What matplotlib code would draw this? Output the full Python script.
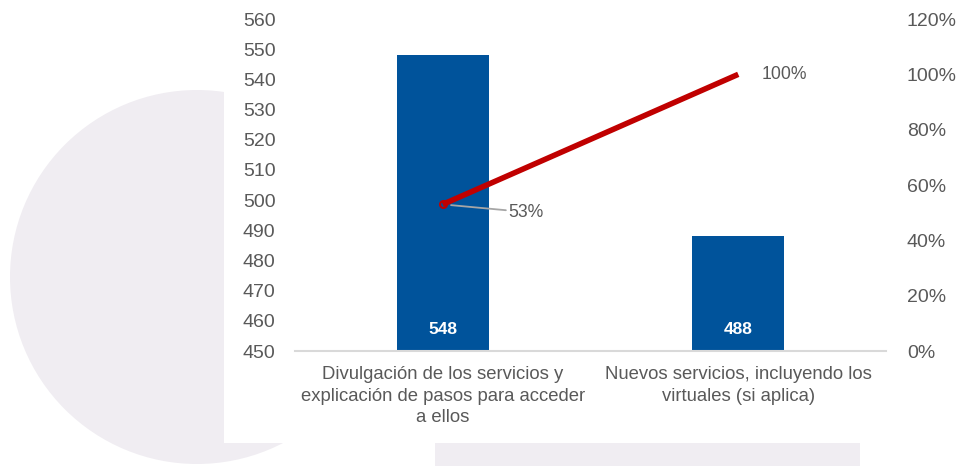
import numpy as np
import matplotlib
matplotlib.use("Agg")
from matplotlib import pyplot as plt
from matplotlib.patches import Ellipse, Rectangle
from matplotlib.ticker import FuncFormatter

categories = ["Divulgación de los servicios y\nexplicación de pasos para acceder\na ellos",
              "Nuevos servicios, incluyendo los\nvirtuales (si aplica)"]
counts = [548, 488]
cum_pct = [53, 100]

plt.rcParams['font.family'] = ['Liberation Sans', 'DejaVu Sans']
grey = '#595959'

fig = plt.figure(figsize=(9.59, 4.66), dpi=100)
W, H = 959, 466

def px(x, y):
    # pixel coords from top-left -> figure fraction
    return x / W, 1 - y / H

# decorative background shapes
lav = '#F0EDF2'
fig.patches.append(Ellipse(px(197, 277), 2 * 187 / W, 2 * 187 / H,
                           transform=fig.transFigure, facecolor=lav,
                           edgecolor='none', zorder=-3))
fig.patches.append(Rectangle(px(224, 443), (W - 224) / W, 443 / H,
                             transform=fig.transFigure, facecolor='white',
                             edgecolor='none', zorder=-2))
fig.patches.append(Rectangle(px(435, 466), (860 - 435) / W, 23 / H,
                             transform=fig.transFigure, facecolor=lav,
                             edgecolor='none', zorder=-2))

l, b = px(295, 351)
r, t = px(886, 19)
ax = fig.add_axes([l, b, r - l, t - b])
ax.patch.set_alpha(0)

x = np.arange(len(categories))
ax.bar(x, counts, width=0.31, color='#00539B', zorder=2)
ax.set_ylim(450, 560)
ax.set_yticks(np.arange(450, 561, 10))
ax.set_xlim(-0.5, 1.5)
ax.set_xticks(x)
ax.set_xticklabels(categories, fontsize=13.3, color=grey, linespacing=1.33)
ax.tick_params(axis='both', length=0, colors=grey, labelsize=14)
ax.tick_params(axis='x', pad=11, labelsize=13.3)
ax.tick_params(axis='y', pad=14)
for s in ['top', 'right', 'left']:
    ax.spines[s].set_visible(False)
ax.spines['bottom'].set_color('#D9D9D9')
ax.spines['bottom'].set_linewidth(1.5)

for xi, v in zip(x, counts):
    ax.text(xi, 457, str(v), ha='center', va='center', color='white',
            fontsize=12.5, fontweight='bold', zorder=3)

ax2 = ax.twinx()
ax2.patch.set_alpha(0)
ax2.set_ylim(0, 120)
ax2.set_yticks(np.arange(0, 121, 20))
ax2.yaxis.set_major_formatter(FuncFormatter(lambda v, p: f"{v:.0f}%"))
ax2.tick_params(axis='y', length=0, colors=grey, labelsize=14, pad=15)
for s in ax2.spines.values():
    s.set_visible(False)
ax2.plot(x, cum_pct, color='#C00000', lw=4, solid_capstyle='butt', zorder=4)
ax2.plot(x[0], cum_pct[0], marker='o', ms=5, mfc='none', mec='#C00000', mew=1.5)

ax2.annotate(f"{cum_pct[0]}%", xy=(x[0], cum_pct[0]), xytext=(x[0] + 0.223, cum_pct[0] - 2.8),
             fontsize=12.7, color=grey, va='center', ha='left',
             arrowprops=dict(arrowstyle='-', color='#A6A6A6', lw=1.3,
                             shrinkA=0, shrinkB=6))
ax2.text(x[1] + 0.08, cum_pct[1], f"{cum_pct[1]}%", fontsize=12.7, color=grey,
         va='center', ha='left')

fig.savefig("out.png", dpi=100)
